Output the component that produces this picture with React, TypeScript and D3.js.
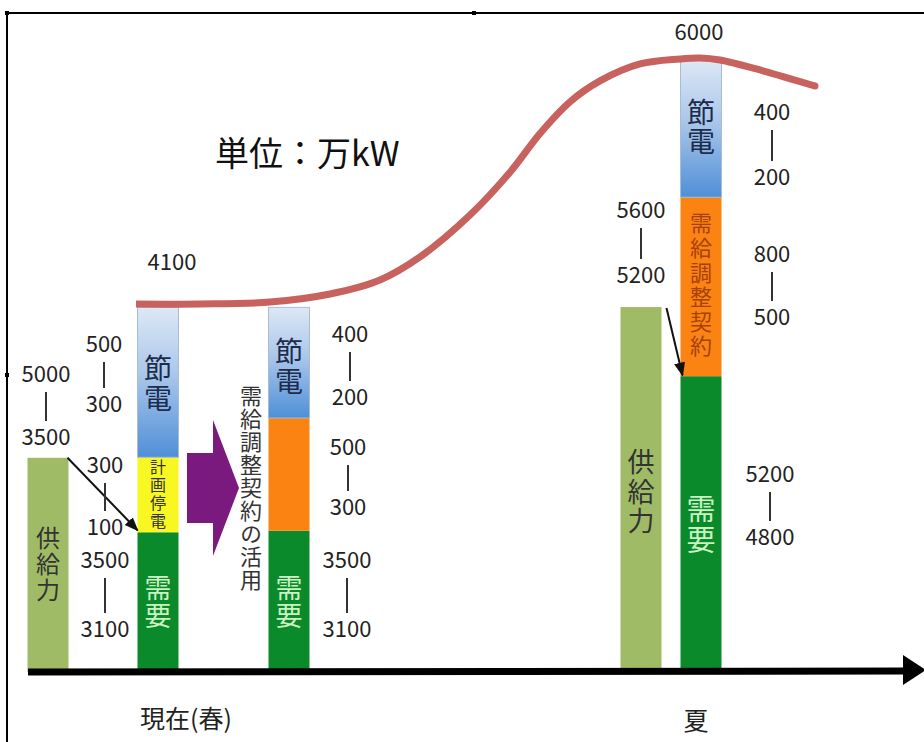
import React from 'react';
import * as d3 from 'd3';

const W = 924;
const H = 742;

// ---- data ----
// bar centres along the timeline (units from the frame's left edge)
const barKeys = ['springSupply', 'springDemand', 'springAdjusted', 'summerSupply', 'summerDemand'];
const barPositions = [40, 150, 281, 633, 693];
// stacked segment sizes (display units, bottom -> top)
const springSupplySegs = [2100];
const springDemandSegs = [1370, 735, 1470]; // 需要, 計画停電, 節電
const springAdjustedSegs = [1385, 1105, 1085]; // 需要, 需給調整契約, 節電
const summerSupplySegs = [3578];
const summerDemandSegs = [2900, 1755, 1345]; // 需要, 需給調整契約, 節電

// peak-demand curve (timeline position, display value)
const curveT = [128, 192, 262, 322, 372, 412, 462, 502, 532, 562, 592, 632, 672, 692, 712, 752, 807];
const curveV = [3608, 3608, 3627, 3706, 3843, 4069, 4480, 4900, 5280, 5590, 5795, 5961, 6010, 6020, 6000, 5902, 5745];

// range labels
const rangeHi = ['5000', '500', '300', '3500', '400', '500', '3500', '5600', '400', '800', '5200'];
const rangeLo = ['3500', '300', '100', '3100', '200', '300', '3100', '5200', '200', '500', '4800'];
const peakLabels = ['4100', '6000'];
const seasonLabels = ['現在(春)', '夏'];
const unitLabel = '単位：万kW';

// ---- layout (not data) ----
const rangePos = [
  [46, 382, 445], [104, 352, 412], [105, 473, 535], [105, 568, 637],
  [350, 342, 405], [348, 455, 515], [347, 568, 637],
  [641, 218, 283], [772, 120, 185], [772, 262, 325], [770, 482, 545],
];
const peakPos = [[172, 270], [699, 40]];
const seasonPos = [[186, 728], [696, 730]];

const FONT = "'Noto Sans CJK JP', 'Noto Sans', sans-serif";

const xScale = d3.scaleLinear().domain([0, 916]).range([8, 924]);
const yScale = d3.scaleLinear().domain([0, 6000]).range([672, 60]);
const BAR_W = 41;

const COLORS = {
  supply: '#a0bb66',
  demand: '#0b8a2c',
  yellow: '#f9f721',
  orange: '#fa8312',
  blue: 'url(#blueGrad)',
  curve: '#c8625e',
  purple: '#7b1a7e',
};

function stack(segs: number[]) {
  const ends = d3.cumsum(segs);
  return segs.map((v, i) => ({ y0: ends[i] - v, y1: ends[i] }));
}

// vertical (top-to-bottom) text as one element; firstCenter = centre of first glyph, step = glyph pitch
function VText({ chars, x, firstCenter, step, size, fill }: any) {
  return (
    <text x={x} y={firstCenter - size / 2} fontSize={size} fill={fill}
      fontFamily={FONT} textAnchor="start"
      style={{ writingMode: 'vertical-rl', letterSpacing: `${step - size}px` } as any}>
      {chars}
    </text>
  );
}

export default function App() {
  const bars = [
    { key: barKeys[0], segs: stack(springSupplySegs), fills: [COLORS.supply] },
    { key: barKeys[1], segs: stack(springDemandSegs), fills: [COLORS.demand, COLORS.yellow, COLORS.blue] },
    { key: barKeys[2], segs: stack(springAdjustedSegs), fills: [COLORS.demand, COLORS.orange, COLORS.blue] },
    { key: barKeys[3], segs: stack(summerSupplySegs), fills: [COLORS.supply] },
    { key: barKeys[4], segs: stack(summerDemandSegs), fills: [COLORS.demand, COLORS.orange, COLORS.blue] },
  ];
  const cx = (i: number) => xScale(barPositions[i]);

  const line = d3.line<[number, number]>()
    .x((d) => xScale(d[0]))
    .y((d) => yScale(d[1]))
    .curve(d3.curveCatmullRom.alpha(0.5));
  const curvePts = curveT.map((t, i) => [t, curveV[i]] as [number, number]);
  const last = curvePts[curvePts.length - 1];

  const b1 = stack(springDemandSegs);
  const b4 = stack(summerDemandSegs);

  return (
    <svg width={W} height={H} style={{ position: 'absolute', left: 0, top: 0, background: '#fff' }}>
      <defs>
        <linearGradient id="blueGrad" x1="0" y1="0" x2="0" y2="1">
          <stop offset="0%" stopColor="#dde8f5" />
          <stop offset="45%" stopColor="#a9c6ea" />
          <stop offset="100%" stopColor="#4f8fd7" />
        </linearGradient>
        <marker id="ah" viewBox="0 0 10 10" refX="9" refY="5" markerWidth="7" markerHeight="7" orient="auto">
          <path d="M0,1 L10,5 L0,9 Z" fill="#111" />
        </marker>
      </defs>
      <rect x={0} y={0} width={W} height={H} fill="#fff" />

      {/* frame */}
      <line x1={7} y1={13} x2={924} y2={13} stroke="#000" strokeWidth={2} />
      <line x1={7} y1={13} x2={7} y2={742} stroke="#000" strokeWidth={2} />
      <rect x={5} y={11} width={4} height={4} fill="#000" />
      <rect x={472} y={11} width={4} height={4} fill="#000" />
      <rect x={5} y={373} width={4} height={4} fill="#000" />

      {/* bars */}
      {bars.map((b, bi) => (
        <g key={b.key}>
          {b.segs.map((s, si) => (
            <rect key={si} x={cx(bi) - BAR_W / 2} width={BAR_W}
              y={yScale(s.y1)} height={yScale(s.y0) - yScale(s.y1)}
              fill={b.fills[si]}
              stroke={b.fills[si] === COLORS.blue ? '#a8bcd4' : 'none'} strokeWidth={1} />
          ))}
        </g>
      ))}

      {/* axis */}
      <line x1={28} y1={672} x2={906} y2={671} stroke="#000" strokeWidth={7} />
      <polygon points="903,655 926,670 903,685" fill="#000" />

      {/* curve */}
      <path d={line(curvePts) || ''} fill="none" stroke={COLORS.curve} strokeWidth={7} strokeLinecap="butt" />
      <circle cx={xScale(last[0])} cy={yScale(last[1])} r={3.5} fill={COLORS.curve} />

      {/* purple block arrow */}
      <polygon points="187,453 213,453 213,420 239,488 213,556 213,523 187,523" fill={COLORS.purple} />

      {/* thin black arrows */}
      <line x1={cx(0) + BAR_W / 2 - 1} y1={yScale(springSupplySegs[0])} x2={cx(1) - BAR_W / 2}
        y2={yScale(b1[0].y1) - 2} stroke="#111" strokeWidth={2} markerEnd="url(#ah)" />
      <line x1={cx(3) + BAR_W / 2 + 5} y1={yScale(summerSupplySegs[0]) + 1} x2={cx(4) - BAR_W / 2 + 2}
        y2={yScale(b4[0].y1) - 1} stroke="#111" strokeWidth={2} markerEnd="url(#ah)" />

      {/* in-bar vertical texts */}
      <VText chars="供給力" x={cx(0)} firstCenter={538} step={26} size={24} fill="#333" />
      <VText chars="節電" x={cx(1)} firstCenter={368} step={30} size={28} fill="#1d2c4c" />
      <VText chars="計画停電" x={cx(1)} firstCenter={467} step={18} size={16} fill="#333" />
      <VText chars="需要" x={cx(1)} firstCenter={588} step={28} size={27} fill="#c9f3c0" />
      <VText chars="節電" x={cx(2)} firstCenter={351} step={30} size={28} fill="#1d2c4c" />
      <VText chars="需要" x={cx(2)} firstCenter={588} step={28} size={27} fill="#c9f3c0" />
      <VText chars="需給調整契約の活用" x={251} firstCenter={396} step={23} size={22} fill="#333" />
      <VText chars="節電" x={cx(4)} firstCenter={112} step={29} size={28} fill="#1d2c4c" />
      <VText chars="需給調整契約" x={cx(4)} firstCenter={223} step={24.6} size={22} fill="#a8400a" />
      <VText chars="供給力" x={cx(3)} firstCenter={462} step={29.5} size={27} fill="#333" />
      <VText chars="需要" x={cx(4)} firstCenter={509} step={31} size={29} fill="#c9f3c0" />

      {/* range labels */}
      {rangeHi.map((hi, i) => {
        const [x, yHi, yLo] = rangePos[i];
        return (
          <g key={'r' + i} fontFamily={FONT} fontSize={22} fill="#222" textAnchor="middle">
            <text x={x} y={yHi}>{hi}</text>
            <line x1={x} x2={x} y1={yHi + 10} y2={yLo - 24} stroke="#333" strokeWidth={2} />
            <text x={x} y={yLo}>{rangeLo[i]}</text>
          </g>
        );
      })}

      {peakLabels.map((t, i) => (
        <text key={'p' + i} x={peakPos[i][0]} y={peakPos[i][1]} fontFamily={FONT} fontSize={22}
          fill="#222" textAnchor="middle">{t}</text>
      ))}

      {seasonLabels.map((t, i) => (
        <text key={'s' + i} x={seasonPos[i][0]} y={seasonPos[i][1]} fontFamily={FONT} fontSize={25}
          fill="#222" textAnchor="middle">{t}</text>
      ))}

      <text x={215} y={166} fontFamily={FONT} fontSize={34} fill="#111">{unitLabel}</text>
    </svg>
  );
}
